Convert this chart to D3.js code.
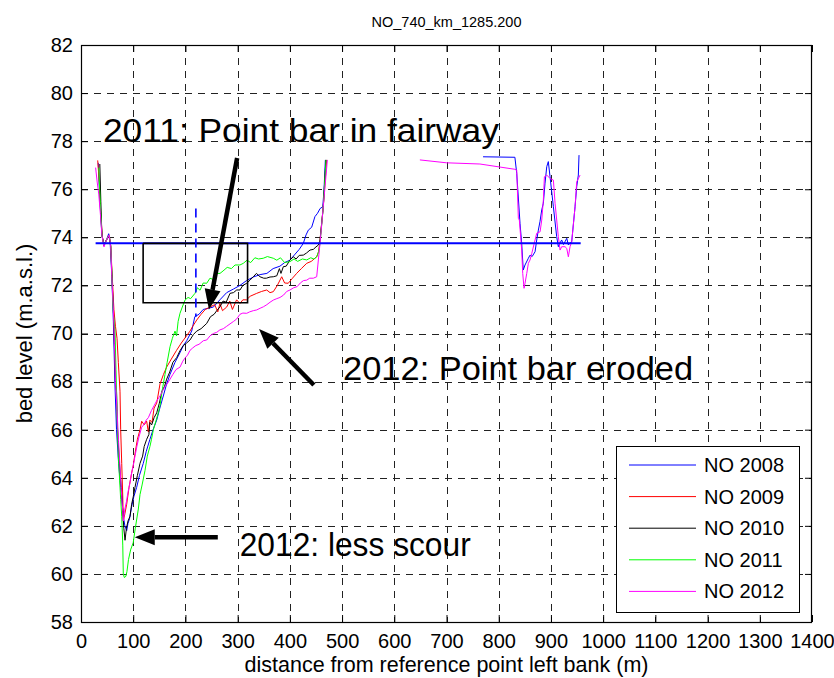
<!DOCTYPE html>
<html><head><meta charset="utf-8">
<script src="https://cdn.jsdelivr.net/npm/d3@7"></script>
<style>body{margin:0;background:#fff}svg{display:block}text{font-family:"Liberation Sans",Arial,sans-serif}</style>
</head><body><svg id="c" width="834" height="678"></svg>
<script>
const title = "NO_740_km_1285.200";
const xLabel = "distance from reference point left bank (m)";
const yLabel = "bed level (m.a.s.l.)";
const xTicks = [0,100,200,300,400,500,600,700,800,900,1000,1100,1200,1300,1400];
const yTicks = [58,60,62,64,66,68,70,72,74,76,78,80,82];
const seriesNames = ["NO 2008","NO 2009","NO 2010","NO 2011","NO 2012"];
const seriesColors = ["#0000ff","#ff0000","#000000","#00ff00","#ff00ff"];

const no2008 = [[33,77.1],[36,75.6],[40,74.1],[44,73.7],[49,73.9],[53,74.15],[56,73.7],[59,72.4],[62,70.5],[65,67.9],[68,66.0],[72,64.6],[76,63.6],[78,63.2],[81,62.4],[84,62.0],[87.5,61.8],[90,62.1],[93,62.3],[97,62.8],[101,63.2],[106.6,63.6],[112,64.1],[119.3,64.6],[125,65.1],[132,65.6],[138,66.0],[145,66.4],[151,66.9],[157.6,67.4],[164,67.9],[170.5,68.3],[180,68.8],[189.6,69.2],[196,69.5],[202.4,69.7],[212,70.1],[218,70.7],[226,70.8],[234,71.0],[244,71.05],[253.5,71.1],[266,71.4],[279,71.7],[292,71.85],[304.5,72.0],[317,72.2],[330,72.35],[343,72.45],[356,72.5],[368,72.7],[381,72.8],[390,72.95],[400,73.05],[410,73.3],[418,73.5],[425.8,73.75],[431,74.1],[435.4,74.3],[441.8,74.42],[448,74.86],[453,75.0],[458,75.2],[463,75.27],[465.4,75.97],[468,77.22],
  null,[770,77.35],[831,77.33],[834.5,76.66],[840.8,74.58],[844,73.75],[847,72.64],[850.4,72.85],[856.8,73.13],[860,73.26],[864,73.2],[869.6,73.40],[872.8,73.89],[875.9,74.3],[879,74.65],[882.4,75.14],[885.5,75.42],[888.7,76.25],[892,76.94],[895,77.15],[898.3,76.52],[904.7,75.27],[911,74.03],[914.2,73.61],[917,73.75],[920.6,73.89],[924,73.7],[927,73.82],[930.3,73.96],[933.4,73.68],[936,73.75],[939.8,73.82],[946.2,75.27],[949.4,76.11],[952.5,76.59],[953.8,77.42]];

const no2009 = [[32,77.2],[35,76.3],[38,74.9],[41,74.0],[44,73.7],[49,73.9],[54,74.1],[57,73.6],[60,72.3],[63,71.0],[66,70.3],[69,69.8],[71.5,68.8],[74.7,67.6],[76,66.0],[78,64.6],[80,63.2],[81,62.2],[84,62.5],[87.5,62.9],[92,63.6],[97,64.2],[100,64.5],[103.4,65.0],[108,65.6],[113,66.0],[116.2,66.35],[121,66.2],[125.8,66.35],[129,65.9],[132,66.4],[136,66.3],[140,66.9],[145,67.1],[151.3,67.9],[158,68.3],[164,68.6],[172,68.9],[183,69.3],[192,69.6],[202,69.9],[208.8,70.1],[214,70.3],[221.6,70.56],[230,70.8],[238,71.0],[247,71.1],[256,71.2],[262,70.9],[266,71.25],[271,70.95],[279,71.1],[285,71.35],[290,71.0],[298,71.4],[304.5,71.25],[310,71.4],[317,71.4],[324,71.55],[336.5,71.67],[346,71.75],[355.7,71.81],[362,71.7],[368.3,71.74],[376,72.0],[384.4,72.36],[390,72.1],[397,72.09],[405,72.3],[413,72.5],[422,72.7],[432.3,72.92],[441,73.0],[451.4,73.19],[455,73.4],[457.8,73.89],[464,75.27],[470.6,77.22]];

const no2010 = [[36,77.05],[38,75.5],[40,74.1],[44,73.65],[49,73.9],[54,74.05],[57,73.65],[59,72.5],[62,71.0],[64,69.5],[66,67.9],[68,67.6],[70,66.0],[73,64.8],[77,63.6],[80,62.6],[82,61.9],[84.3,61.4],[87,61.9],[90,62.2],[93.9,62.4],[97,62.9],[100,63.2],[103.4,63.6],[108,64.1],[113,64.6],[118,64.9],[121,65.3],[125.8,65.6],[130,65.8],[132,66.3],[135.4,66.2],[140,66.5],[145,66.7],[150,67.1],[155,67.6],[160,67.8],[164,68.1],[170,68.4],[176,68.8],[183.3,69.0],[190,69.3],[196,69.5],[202,69.6],[208.8,69.73],[215,69.95],[221.6,70.1],[230,70.2],[240.8,70.42],[248,70.7],[255,70.8],[260,70.95],[266.2,71.11],[272,71.35],[278,71.3],[285.4,71.67],[292,71.7],[298.2,71.81],[304.5,71.81],[310,72.0],[317.4,72.09],[323.7,72.22],[330,72.36],[336,72.5],[342.8,72.36],[350,72.3],[355,72.3],[362,72.35],[368.3,72.36],[375,72.4],[380,72.7],[383,72.5],[387.5,72.78],[393,72.8],[400,73.05],[406.6,73.19],[412,73.1],[418,73.25],[425.8,73.26],[432,73.35],[438.6,73.47],[445,73.5],[450,73.6],[454.6,73.68],[457.8,73.89],[464,75.27],[469,77.22]];

const no2011 = [[34,76.9],[37,75.4],[40,74.1],[44,73.65],[49,73.9],[54,74.1],[57,73.6],[59,72.6],[61,71.2],[63,70.6],[65.1,70.1],[67,68.5],[69,66.8],[71.5,64.9],[74,63.9],[76,63.1],[78,62.4],[80,61.2],[81,60.0],[83,59.85],[86,59.9],[88,60.1],[91,60.6],[95,61.0],[100,61.3],[104,61.9],[109.8,62.7],[113,63.3],[117,63.7],[122.6,64.3],[127,64.9],[132,65.3],[135,65.6],[138.6,66.0],[144,66.4],[148,66.7],[151.3,67.0],[156,67.7],[160.9,68.3],[165,68.8],[170.5,69.45],[175,69.8],[180,70.1],[183,69.9],[186,70.5],[189.6,70.84],[194,71.1],[199.2,71.39],[205,71.5],[210,71.45],[218.3,71.67],[223,71.9],[228,71.8],[234,72.1],[240.8,72.09],[247,72.3],[253,72.25],[260,72.5],[266.2,72.5],[272,72.6],[280,72.75],[288,72.7],[295,72.85],[304.5,72.85],[310.9,72.92],[318,73.05],[325,72.95],[333,73.15],[340,73.1],[349,73.13],[357,73.2],[368.3,73.13],[375,73.05],[382,73.15],[390,72.95],[400.3,72.99],[408,73.1],[415,73.0],[424,73.1],[432.3,73.06],[440,73.15],[446,73.1],[451.4,73.19],[455,73.4],[457.8,73.75],[464,75.27],[469.3,77.22]];

const no2012 = [[28,76.9],[31,76.3],[34,75.8],[37,75.0],[40,74.1],[44,73.6],[49,73.9],[54,74.1],[57,73.6],[59,72.4],[62,71.0],[64,69.6],[66,68.0],[69,66.8],[72,65.5],[75,64.3],[78,63.2],[80,62.6],[81,62.2],[84,62.7],[87,63.0],[90,63.4],[93.9,63.8],[97,64.2],[100,64.5],[103.4,64.9],[107,65.3],[111,65.7],[116.2,66.1],[120,66.2],[125,66.4],[129,66.5],[135,66.8],[140,67.0],[145,67.2],[151.3,67.4],[156,67.6],[161,67.8],[165,67.9],[170.5,68.1],[176,68.3],[182,68.5],[189.6,68.6],[195,68.85],[200,69.0],[204,69.1],[208.8,69.3],[214,69.4],[220,69.5],[226,69.55],[234.3,69.7],[240.8,69.73],[247,69.9],[253.5,70.0],[260,70.05],[266,70.15],[272.6,70.2],[279,70.3],[285.4,70.4],[292,70.5],[298,70.6],[304.5,70.8],[310,70.85],[317.4,70.84],[323,70.9],[330,70.95],[336.5,70.98],[343,71.05],[349.2,71.11],[356,71.2],[362,71.3],[368.3,71.39],[375,71.45],[381.2,71.5],[388,71.6],[394,71.75],[400.3,71.81],[407,71.9],[414,71.95],[420,72.1],[426,72.2],[432.3,72.22],[438,72.3],[445,72.3],[451.4,72.36],[454.6,73.06],[457.8,73.75],[464,75.27],[471.8,77.22],
  null,[649,77.22],[700,77.1],[764,77.05],[831,76.83],[834.5,76.8],[837.6,74.79],[839.5,74.72],[844,73.47],[846,72.5],[848.5,71.88],[850.4,72.09],[853.7,72.5],[856.8,72.92],[860,73.06],[863.3,73.33],[869.6,73.89],[872.8,74.17],[879.2,74.23],[882.4,74.72],[885.5,75.55],[887.5,76.52],[892,76.59],[898.3,76.45],[904.7,76.38],[907.9,75.42],[914.2,74.03],[917.5,73.47],[920.6,73.61],[927,73.61],[930.3,73.54],[933.4,73.19],[936.6,73.61],[939.8,73.82],[946.2,75.27],[949.4,76.31],[955.8,76.59]];

const waterLevel = [[28,73.75],[957,73.75]];
const fairwayBox = [[119,73.75],[319,73.75],[319,71.28],[119,71.28],[119,73.75]];
const fairwayAxis = [[220,75.2],[220,70.7]];

const annotations = [
  {text:"2011: Point bar in fairway", x:42, y:77.95, len:396, from:[299,77.3], to:[245,71.0]},
  {text:"2012: Point bar eroded", x:502, y:68.07, len:350, from:[446,67.86], to:[341,70.19]},
  {text:"2012: less scour", x:304, y:60.74, len:231, from:[262,61.53], to:[103,61.53]}
];

const series = [no2008,no2009,no2010,no2011,no2012];

const svg = d3.select("#c");
const L=81,T=45,R=812,B=622;
const x = d3.scaleLinear().domain([0,1400]).range([L,R]);
const y = d3.scaleLinear().domain([58,82]).range([B,T]);

// grid
const g = svg.append("g");
g.selectAll(".gx").data(xTicks.slice(1,-1)).join("line")
  .attr("x1",d=>Math.round(x(d))+0.5).attr("x2",d=>Math.round(x(d))+0.5)
  .attr("y1",T).attr("y2",B).attr("stroke","#222").attr("stroke-width",1).attr("stroke-dasharray","7,6");
g.selectAll(".gy").data(yTicks.slice(1,-1)).join("line")
  .attr("y1",d=>Math.round(y(d))+0.5).attr("y2",d=>Math.round(y(d))+0.5)
  .attr("x1",L).attr("x2",R).attr("stroke","#222").attr("stroke-width",1).attr("stroke-dasharray","7,6");

// axes
const fmt = d3.format("d");
const ax = d3.axisBottom(x).tickValues(xTicks).tickFormat(fmt).tickSizeInner(-7).tickSizeOuter(0).tickPadding(12);
const ay = d3.axisLeft(y).tickValues(yTicks).tickFormat(fmt).tickSizeInner(-7).tickSizeOuter(0).tickPadding(8);
const gx = svg.append("g").attr("transform",`translate(0,${B})`).call(ax);
const gy = svg.append("g").attr("transform",`translate(${L},0)`).call(ay);
const gx2 = svg.append("g").attr("transform",`translate(0,${T})`).call(d3.axisTop(x).tickValues(xTicks).tickSizeInner(-7).tickSizeOuter(0).tickFormat(""));
const gy2 = svg.append("g").attr("transform",`translate(${R},0)`).call(d3.axisRight(y).tickValues(yTicks).tickSizeInner(-7).tickSizeOuter(0).tickFormat(""));
[gx,gy,gx2,gy2].forEach(a=>{a.select(".domain").remove();a.selectAll("line").attr("stroke","#000");});
[gx,gy].forEach(a=>a.selectAll("text").attr("font-size",20).attr("fill","#000").style("font-family","Liberation Sans, Arial, sans-serif"));
svg.append("rect").attr("x",L+0.5).attr("y",T+0.5).attr("width",R-L-1).attr("height",B-T).attr("fill","none").attr("stroke","#000").attr("stroke-width",1.2);

// data lines
const line = d3.line().defined(d=>d!==null).x(d=>x(d[0])).y(d=>y(d[1]));
const pg = svg.append("g");
series.forEach((s,i)=>{
  pg.append("path").datum(s).attr("d",line).attr("fill","none").attr("stroke",seriesColors[i]).attr("stroke-width",1);
});
pg.append("path").datum(waterLevel).attr("d",line).attr("fill","none").attr("stroke","#0000ff").attr("stroke-width",2);
pg.append("path").datum(fairwayBox).attr("d",line).attr("fill","none").attr("stroke","#000").attr("stroke-width",1.6);
pg.append("path").datum(fairwayAxis).attr("d",line).attr("fill","none").attr("stroke","#0000ff").attr("stroke-width",1.6).attr("stroke-dasharray","9,6");

// annotations
const ag = svg.append("g");
annotations.forEach(a=>{
  const x1=x(a.from[0]),y1=y(a.from[1]),x2=x(a.to[0]),y2=y(a.to[1]);
  const ang=Math.atan2(y2-y1,x2-x1), hl=20, hw=8;
  const bx=x2-hl*Math.cos(ang), by=y2-hl*Math.sin(ang);
  ag.append("line").attr("x1",x1).attr("y1",y1).attr("x2",bx).attr("y2",by).attr("stroke","#000").attr("stroke-width",4.5);
  ag.append("path").attr("d",`M${x2},${y2}L${bx+hw*Math.sin(ang)},${by-hw*Math.cos(ang)}L${bx-hw*Math.sin(ang)},${by+hw*Math.cos(ang)}Z`).attr("fill","#000");
  ag.append("text").attr("x",x(a.x)).attr("y",y(a.y)).attr("font-size",34).attr("fill","#000")
    .attr("textLength",a.len).attr("lengthAdjust","spacingAndGlyphs").text(a.text);
});

// legend
const lg = svg.append("g");
lg.append("rect").attr("x",616.5).attr("y",446.5).attr("width",183).attr("height",166).attr("fill","#fff").attr("stroke","#000").attr("stroke-width",1);
seriesNames.forEach((n,i)=>{
  const yy=465+i*31.6;
  lg.append("line").attr("x1",629).attr("x2",696).attr("y1",yy).attr("y2",yy).attr("stroke",seriesColors[i]).attr("stroke-width",1);
  lg.append("text").attr("x",704).attr("y",yy).attr("dy","0.35em").attr("font-size",20).text(n);
});

// titles
svg.append("text").attr("x",(L+R)/2).attr("y",27).attr("text-anchor","middle").attr("font-size",14.5).text(title);
svg.append("text").attr("x",(L+R)/2).attr("y",672).attr("text-anchor","middle").attr("font-size",21.5).text(xLabel);
svg.append("text").attr("transform",`translate(32,${(T+B)/2}) rotate(-90)`).attr("text-anchor","middle").attr("font-size",22).text(yLabel);
</script></body></html>
